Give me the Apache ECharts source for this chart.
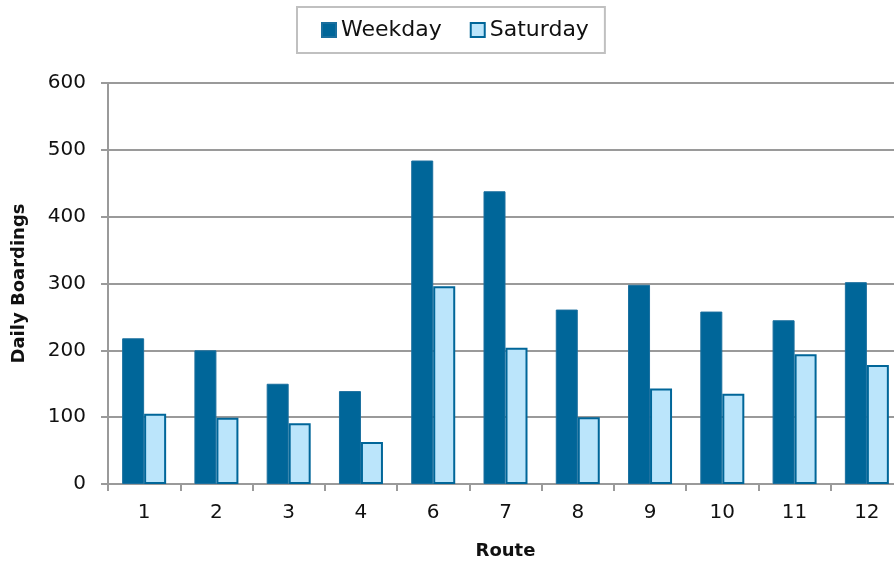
<!DOCTYPE html>
<html>
<head>
<meta charset="utf-8">
<script src="https://cdn.jsdelivr.net/npm/echarts@6/dist/echarts.min.js"></script>
<style>
  html, body { margin: 0; padding: 0; background: #fff; }
  #chart { width: 894px; height: 563px; }
</style>
</head>
<body>
<div id="chart"></div>
<script>
// Daily boardings by route
const routes = ['1', '2', '3', '4', '6', '7', '8', '9', '10', '11', '12'];
const weekday = [218, 200, 150, 139, 484, 438, 261, 298, 258, 245, 302];
const saturday = [105, 99, 91, 63, 296, 204, 100, 143, 135, 194, 178];
const yTicks = [0, 100, 200, 300, 400, 500, 600];

const FONT = '"DejaVu Sans", sans-serif';
const DARK = '#006699';
const LIGHT = '#bbe5fb';
const GRID = '#9a9a9a';

const chart = echarts.init(document.getElementById('chart'));
chart.setOption({
  animation: false,
  backgroundColor: '#ffffff',
  legend: {
    top: 7,
    left: 297,
    padding: [12, 16, 12, 24],
    itemGap: 28,
    itemWidth: 14,
    itemHeight: 14,
    icon: 'rect',
    borderColor: '#c0c0c0',
    borderWidth: 2,
    textStyle: { fontFamily: FONT, fontSize: 22, color: '#111', padding: [0, 0, 0, 0] },
    data: ['Weekday', 'Saturday']
  },
  grid: { left: 108, top: 83, width: 795, height: 401, outerBoundsMode: 'none', containLabel: false },
  xAxis: {
    type: 'category',
    data: routes,
    name: 'Route',
    nameLocation: 'middle',
    nameGap: 58,
    nameTextStyle: { fontFamily: FONT, fontSize: 18, fontWeight: 'bold', color: '#111' },
    axisLine: { lineStyle: { color: GRID, width: 2 } },
    axisTick: { show: true, length: 7, lineStyle: { color: GRID, width: 2 } },
    axisLabel: { fontFamily: FONT, fontSize: 20, color: '#111', margin: 19 }
  },
  yAxis: {
    type: 'value',
    min: yTicks[0],
    max: yTicks[yTicks.length - 1],
    interval: 100,
    name: 'Daily Boardings',
    nameLocation: 'middle',
    nameGap: 80,
    nameTextStyle: { fontFamily: FONT, fontSize: 18, fontWeight: 'bold', color: '#111' },
    axisLine: { show: true, lineStyle: { color: GRID, width: 2 } },
    axisTick: { show: true, length: 7, lineStyle: { color: GRID, width: 2 } },
    splitLine: { show: true, lineStyle: { color: GRID, width: 2 } },
    axisLabel: { fontFamily: FONT, fontSize: 20, color: '#111', margin: 22 }
  },
  series: [
    {
      name: 'Weekday',
      type: 'bar',
      data: weekday,
      barWidth: 22,
      barGap: '0%',
      itemStyle: { color: DARK, borderColor: '#1a6f9e', borderWidth: 1 }
    },
    {
      name: 'Saturday',
      type: 'bar',
      data: saturday,
      barWidth: 22,
      itemStyle: { color: LIGHT, borderColor: DARK, borderWidth: 2 }
    }
  ]
});
</script>
</body>
</html>
